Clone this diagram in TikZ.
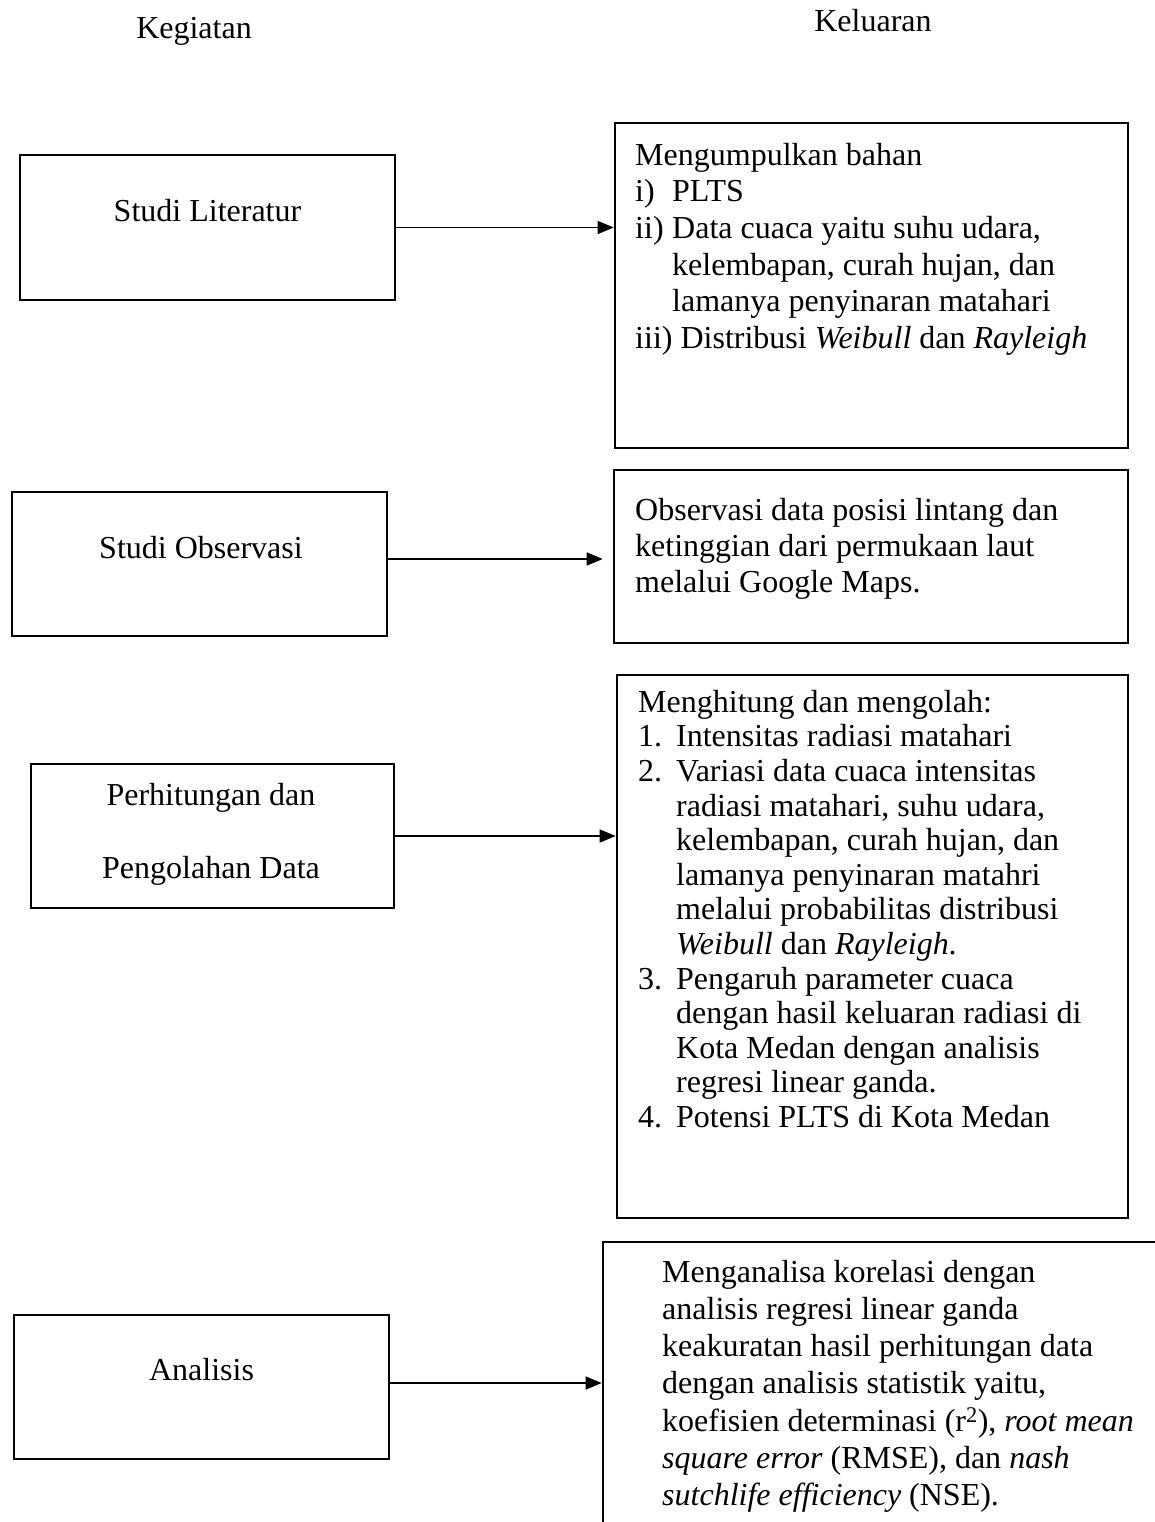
\documentclass[tikz,border=0pt]{standalone}
\usepackage{fontspec}
\setmainfont{Liberation Serif}
\usetikzlibrary{arrows.meta}

\tikzset{
  kotak/.style={draw, line width=2.6pt, inner sep=0pt},
  panah/.style={-{Triangle[length=16pt,width=13pt]}, line width=1.5pt},
  teks/.style={inner sep=0pt, font=\fontsize{32}{37}\selectfont},
  isi/.style={inner sep=0pt, anchor=north west, align=left},
}

\begin{document}
\begin{tikzpicture}[x=1pt, y=-1pt]
\clip (0,0) rectangle (1155,1522);
% judul kolom
\node[teks, anchor=base] (kegiatan) at (194,39) {Kegiatan};
\node[teks, anchor=base] (keluaran) at (873,32) {Keluaran};
% kotak kegiatan
\node[kotak, minimum width=375pt, minimum height=145pt] (lit) at (207.5,227.5) {};
\node[teks, anchor=base] (litlabel) at (207.5,222) {Studi Literatur};
\node[kotak, minimum width=375pt, minimum height=144pt] (obs) at (199.5,564) {};
\node[teks, anchor=base] (obslabel) at (201,558) {Studi Observasi};
\node[kotak, minimum width=363pt, minimum height=144pt] (hit) at (212.5,836) {};
\node[teks, anchor=base] (hitlabela) at (211,805) {Perhitungan dan};
\node[teks, anchor=base] (hitlabelb) at (211,878) {Pengolahan Data};
\node[kotak, minimum width=375pt, minimum height=144pt] (ana) at (201.5,1387) {};
\node[teks, anchor=base] (analabel) at (201.5,1380) {Analisis};
% kotak keluaran
\node[kotak, minimum width=513pt, minimum height=325pt] (kLit) at (871.5,285.5) {};
\node[isi, font=\fontsize{32}{36.7}\selectfont] (kLitisi) at (635,139.3) {\strut Mengumpulkan bahan\\
\makebox[37pt][l]{i)}PLTS\\
\makebox[37pt][l]{ii)}Data cuaca yaitu suhu udara,\\
\hspace*{37pt}kelembapan, curah hujan, dan\\
\hspace*{37pt}lamanya penyinaran matahari\\
iii) Distribusi \textit{Weibull} dan \textit{Rayleigh}};
\node[kotak, minimum width=514pt, minimum height=173pt] (kObs) at (871,556.5) {};
\node[isi, font=\fontsize{32}{36}\selectfont] (kObsisi) at (635,494.8) {\strut Observasi data posisi lintang dan\\
ketinggian dari permukaan laut\\
melalui Google Maps.};
\node[kotak, minimum width=511pt, minimum height=543pt] (kHit) at (872.5,946.5) {};
\node[isi, font=\fontsize{32}{34.6}\selectfont] (kHitisi) at (638,687.8) {\strut Menghitung dan mengolah:\\
\makebox[38pt][l]{1.}Intensitas radiasi matahari\\
\makebox[38pt][l]{2.}Variasi data cuaca intensitas\\
\hspace*{38pt}radiasi matahari, suhu udara,\\
\hspace*{38pt}kelembapan, curah hujan, dan\\
\hspace*{38pt}lamanya penyinaran matahri\\
\hspace*{38pt}melalui probabilitas distribusi\\
\hspace*{38pt}\textit{Weibull} dan \textit{Rayleigh}.\\
\makebox[38pt][l]{3.}Pengaruh parameter cuaca\\
\hspace*{38pt}dengan hasil keluaran radiasi di\\
\hspace*{38pt}Kota Medan dengan analisis\\
\hspace*{38pt}regresi linear ganda.\\
\makebox[38pt][l]{4.}Potensi PLTS di Kota Medan};
\node[kotak, minimum width=597pt, minimum height=338pt] (kAna) at (901.5,1411) {};
\node[isi, font=\fontsize{32}{37.2}\selectfont] (kAnaisi) at (662,1256) {\strut Menganalisa korelasi dengan\\
analisis regresi linear ganda\\
keakuratan hasil perhitungan data\\
dengan analisis statistik yaitu,\\
koefisien determinasi (r\textsuperscript{2}), \textit{root mean}\\
\textit{square error} (RMSE), dan \textit{nash}\\
\textit{sutchlife efficiency} (NSE).};
% panah
\draw[panah] (lit.east) -- (lit.east -| kLit.west);
\draw[panah, shorten >=10pt] ([yshift=5pt]obs.east) -- ([yshift=5pt]obs.east -| kObs.west);
\draw[panah] (hit.east) -- (hit.east -| kHit.west);
\draw[panah] ([yshift=4pt]ana.east) -- ([yshift=4pt]ana.east -| kAna.west);
\end{tikzpicture}
\end{document}
